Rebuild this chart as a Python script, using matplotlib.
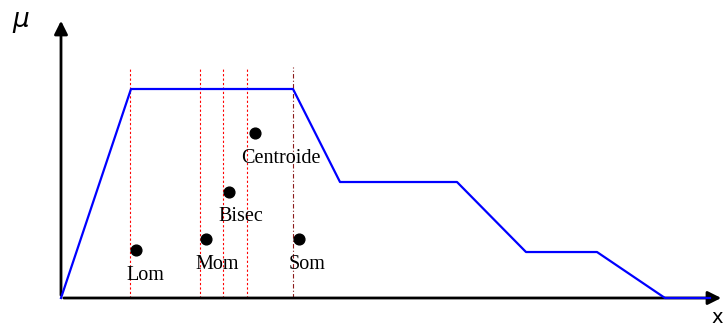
import matplotlib.pyplot as plt
import numpy as np

# membership function (x, mu)
mf_x = [0, 7.0, 23.2, 27.9, 39.6, 46.5, 53.6, 60.4, 64.9]
mf_mu = [0, 1.0, 1.0, 0.555, 0.555, 0.22, 0.22, 0.0, 0.0]

# defuzzification results
names = ["Lom", "Mom", "Bisec", "Centroide", "Som"]
pt_x = [7.5, 14.5, 16.8, 19.4, 23.8]
pt_mu = [0.23, 0.282, 0.507, 0.789, 0.282]
vline_x = [6.9, 13.9, 16.2, 18.6, 23.2]

fig = plt.figure(figsize=(7.26, 3.27), dpi=100)
ax = fig.add_axes([0, 0, 1, 1])
# pixel mapping: x=0 at px 61, 10 px/unit; mu=0 at py 298, 209 px/unit
ax.set_xlim(-6.1, 66.5)
ax.set_ylim((298 - 327) / 209, 298 / 209)
ax.axis("off")

# axes arrows
ax.annotate("", xy=(66.3, 0), xytext=(0, 0),
            arrowprops=dict(arrowstyle="-|>", color="black", lw=2, mutation_scale=20))
ax.annotate("", xy=(0, (298 - 18) / 209), xytext=(0, 0),
            arrowprops=dict(arrowstyle="-|>", color="black", lw=2, mutation_scale=20))
ax.text(-4.0, (298 - 22) / 209, r"$\mu$", fontsize=19, ha="center", va="center")
ax.text(65.6, -0.095, "x", fontsize=14, ha="center", va="center", family="DejaVu Sans")

top = (298 - 67) / 209
for i, vx in enumerate(vline_x):
    if i == len(vline_x) - 1:
        ax.plot([vx, vx], [0, top], color="#8b1a1a", lw=0.8, linestyle=(0, (4, 2, 1, 2)))
    else:
        ax.plot([vx, vx], [0, top], color="red", lw=0.8, linestyle=(0, (2, 2)))

ax.plot(mf_x, mf_mu, color="blue", lw=1.6, zorder=3)

ax.scatter(pt_x, pt_mu, s=60, color="black", zorder=4)
label_off = [(0.9, -0.12), (1.1, -0.12), (1.2, -0.115), (2.6, -0.12), (0.8, -0.12)]
for n, x, y, (dx, dy) in zip(names, pt_x, pt_mu, label_off):
    ax.text(x + dx, y + dy, n, fontsize=14.5, family="Liberation Serif",
            ha="center", va="center")

plt.savefig("out.png", dpi=100)
